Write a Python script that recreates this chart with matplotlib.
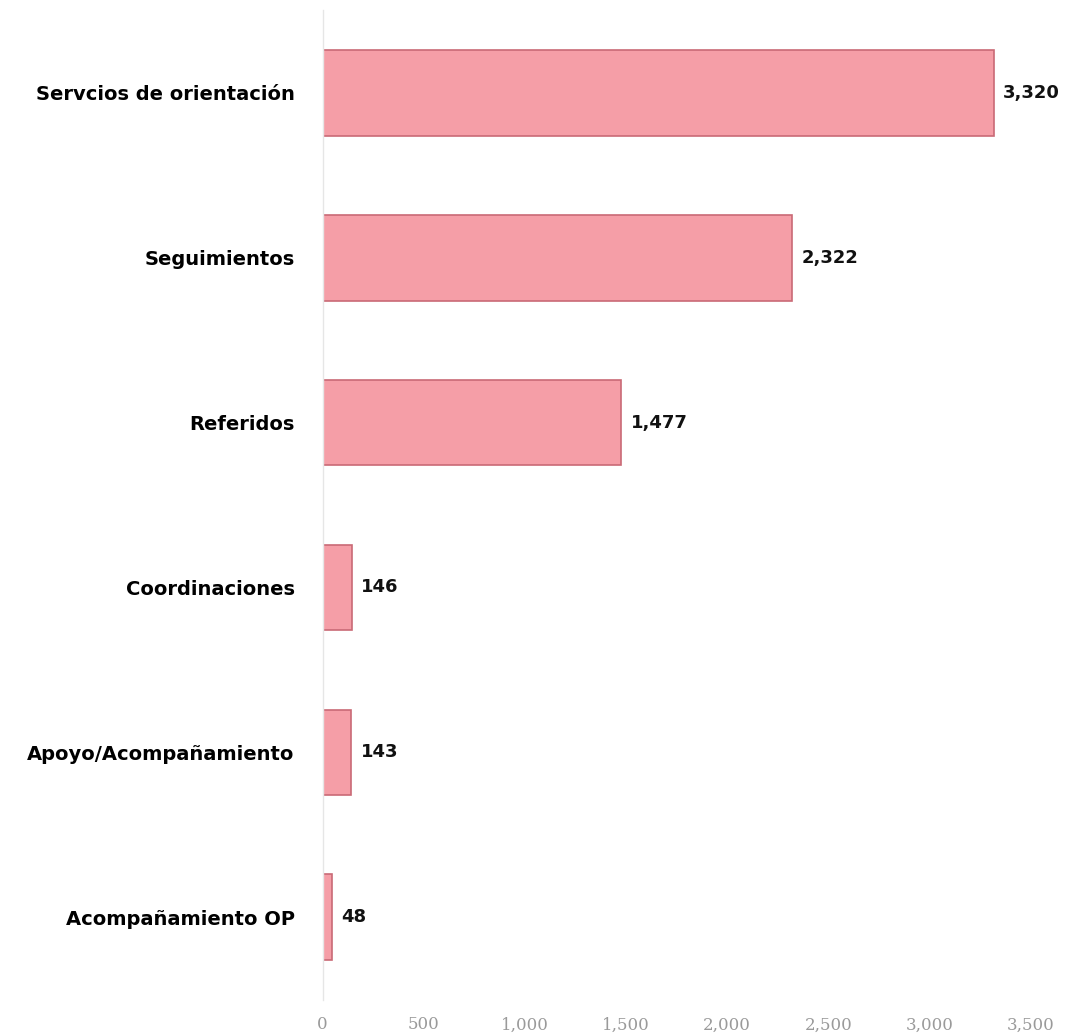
import matplotlib.pyplot as plt
import numpy as np

# Categorías y valores
categorias = ["Servcios de orientación", "Seguimientos", "Referidos",
              "Coordinaciones", "Apoyo/Acompañamiento", "Acompañamiento OP"]
valores = [3320, 2322, 1477, 146, 143, 48]
ticks_x = [0, 500, 1000, 1500, 2000, 2500, 3000, 3500]
etiquetas_x = ["0", "500", "1,000", "1,500", "2,000", "2,500", "3,000", "3,500"]

fig = plt.figure(figsize=(10.68, 10.36), dpi=100)
ax = fig.add_axes([0.302, 0.035, 0.663, 0.955])

y = np.arange(len(categorias))
ax.barh(y, valores, height=0.52, color='#f59ea7', edgecolor='#c96a76', linewidth=1.2)

for yi, v in zip(y, valores):
    ax.text(v + 45, yi, f"{v:,}", va='center', ha='left',
            fontsize=13, fontweight='bold', color='#111111', family='DejaVu Sans')

ax.set_ylim(5.5, -0.5)
ax.set_xlim(0, 3500)
ax.set_yticks(y)
ax.set_yticklabels(categorias, fontsize=14, fontweight='bold', family='DejaVu Sans')
ax.set_xticks(ticks_x)
ax.set_xticklabels(etiquetas_x, fontsize=12, color='#9a9a9a', family='DejaVu Serif')
ax.tick_params(axis='y', length=0, pad=20)
ax.tick_params(axis='x', length=0, pad=12)

for s in ['top', 'right', 'bottom']:
    ax.spines[s].set_visible(False)
ax.spines['left'].set_color('#e6e6e6')
ax.spines['left'].set_linewidth(1)

fig.savefig("out.png", dpi=100)
